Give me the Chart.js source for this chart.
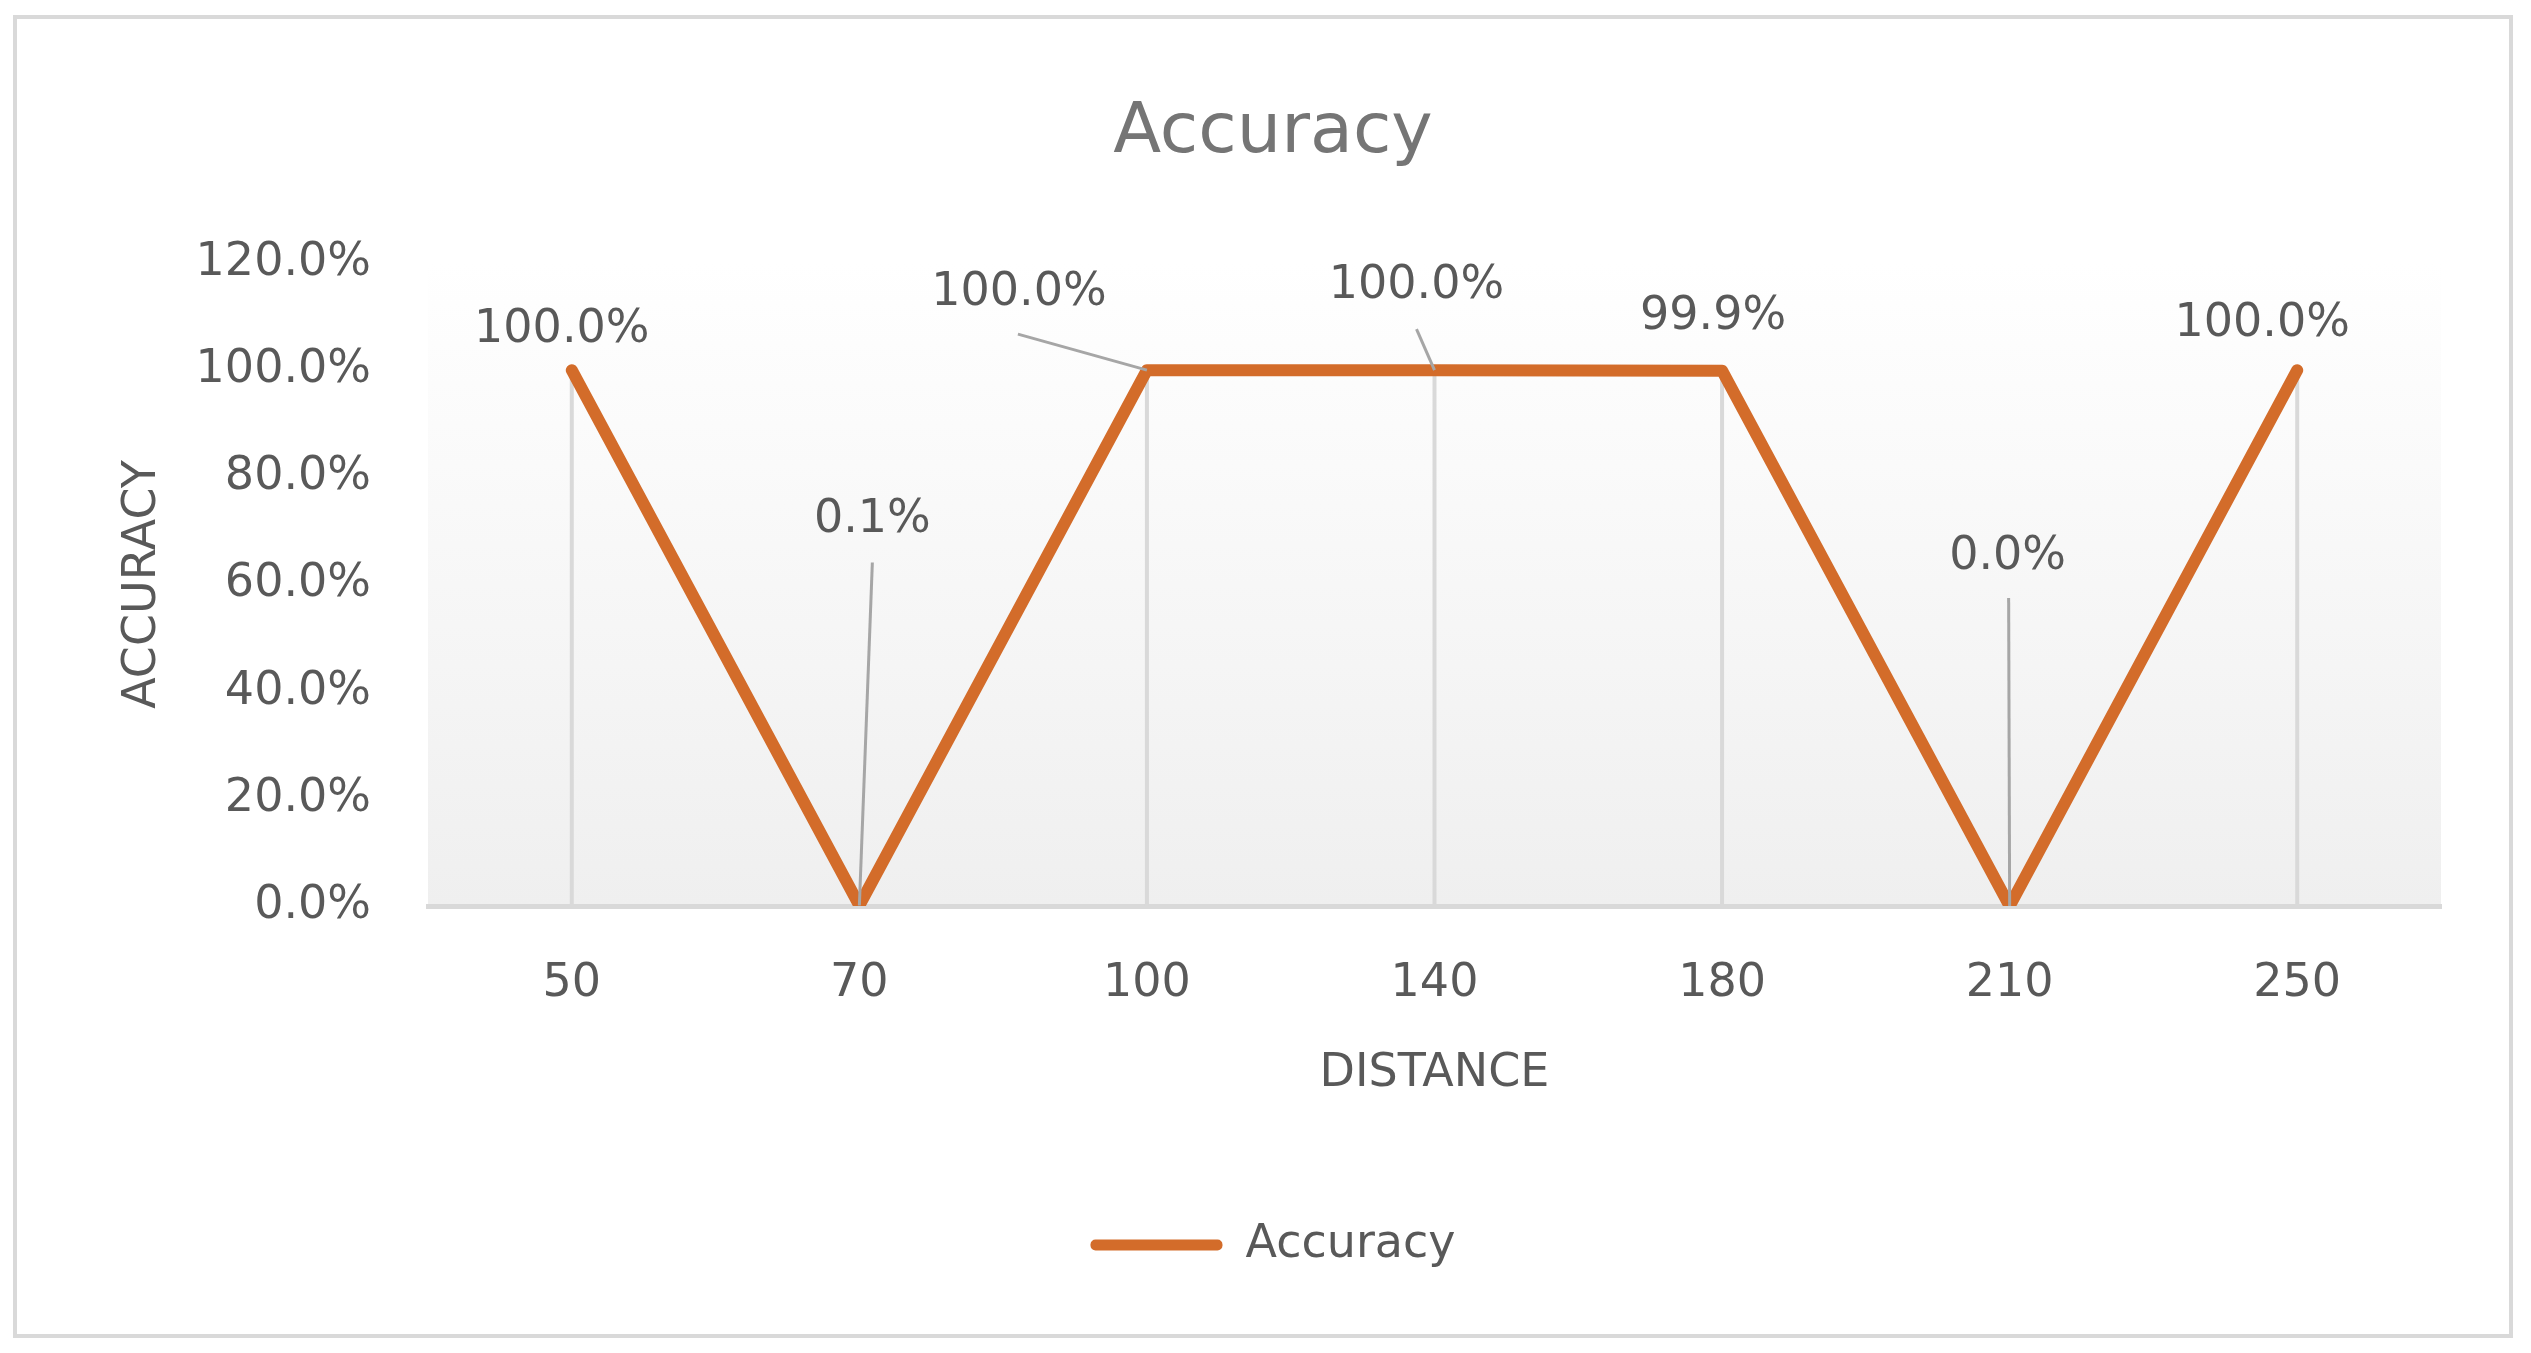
<!DOCTYPE html>
<html><head><meta charset="utf-8">
<script src="https://cdn.jsdelivr.net/npm/chart.js@4.4.1/dist/chart.umd.min.js"></script>
<style>html,body{margin:0;padding:0;background:#fff;overflow:hidden}#wrap{position:absolute;left:0;top:0;width:2531px;height:1353px}</style>
</head><body><div id="wrap"><canvas id="c" width="2531" height="1353"></canvas></div>
<script>
const categories = ['50', '70', '100', '140', '180', '210', '250'];
const accuracyValues = [100.0, 0.1, 100.0, 100.0, 99.9, 0.0, 100.0];
const yTickValues = [0, 20, 40, 60, 80, 100, 120];
const seriesName = 'Accuracy';
const chartTitle = 'Accuracy';
const xAxisTitle = 'DISTANCE';
const yAxisTitle = 'ACCURACY';

const FONT = 'DejaVu Sans';
const LINE_COLOR = '#D36C2A';
const TEXT_COLOR = '#595959';

// label placement relative to each point (pixels): [dx, dy, leaderStart]
const labelPlacement = [
  {dx: -10, dy: -40, leader: null},
  {dx: 13, dy: -385, leader: [13, -343]},
  {dx: -128, dy: -77, leader: [-129, -36]},
  {dx: -18, dy: -84, leader: [-18, -41]},
  {dx: -9, dy: -54, leader: null},
  {dx: -2, dy: -349, leader: [-1, -308]},
  {dx: -35, dy: -46, leader: null}
];

const framePlugin = {
  id: 'frame',
  beforeDraw(chart) {
    const {ctx, chartArea: a} = chart;
    ctx.save();
    ctx.fillStyle = '#ffffff';
    ctx.fillRect(0, 0, chart.width, chart.height);
    ctx.strokeStyle = '#d9d9d9';
    ctx.lineWidth = 4;
    ctx.strokeRect(15, 17, 2496, 1319);
    const g = ctx.createLinearGradient(0, a.top, 0, a.bottom);
    g.addColorStop(0, '#ffffff');
    g.addColorStop(1, '#efefef');
    ctx.fillStyle = g;
    ctx.fillRect(a.left, a.top, a.right - a.left, a.bottom - a.top);
    ctx.restore();
  },
  beforeDatasetsDraw(chart) {
    const {ctx, scales: {x, y}} = chart;
    ctx.save();
    ctx.strokeStyle = '#d9d9d9';
    ctx.lineWidth = 4;
    accuracyValues.forEach((v, i) => {
      const px = x.getPixelForValue(i);
      ctx.beginPath();
      ctx.moveTo(px, y.getPixelForValue(v));
      ctx.lineTo(px, y.getPixelForValue(0));
      ctx.stroke();
    });
    ctx.restore();
  },
  afterDatasetsDraw(chart) {
    const {ctx, scales: {x, y}} = chart;
    ctx.save();
    ctx.font = '46px "' + FONT + '"';
    ctx.fillStyle = TEXT_COLOR;
    ctx.textAlign = 'center';
    ctx.textBaseline = 'middle';
    accuracyValues.forEach((v, i) => {
      const px = x.getPixelForValue(i);
      const py = y.getPixelForValue(v);
      const p = labelPlacement[i];
      if (p.leader) {
        ctx.strokeStyle = '#a6a6a6';
        ctx.lineWidth = 3;
        ctx.beginPath();
        ctx.moveTo(px + p.leader[0], py + p.leader[1]);
        ctx.lineTo(px, py);
        ctx.stroke();
      }
      ctx.fillText(v.toFixed(1) + '%', px + p.dx, py + p.dy);
    });
    ctx.restore();
  }
};

new Chart(document.getElementById('c'), {
  type: 'line',
  data: {
    labels: categories,
    datasets: [{
      label: seriesName,
      data: accuracyValues,
      borderColor: LINE_COLOR,
      backgroundColor: LINE_COLOR,
      borderWidth: 12,
      borderCapStyle: 'round',
      borderJoinStyle: 'round',
      pointRadius: 0,
      pointHoverRadius: 0,
      tension: 0,
      fill: false
    }]
  },
  options: {
    responsive: false,
    animation: false,
    devicePixelRatio: 1,
    layout: {padding: {top: 0, left: 105, right: 90, bottom: 75}},
    plugins: {
      title: {
        display: true,
        text: chartTitle,
        color: '#757575',
        font: {family: FONT, size: 70, weight: 'normal'},
        padding: {top: 92, bottom: 87}
      },
      legend: {
        display: true,
        position: 'bottom',
        labels: {
          color: TEXT_COLOR,
          font: {family: FONT, size: 46},
          boxWidth: 132,
          boxHeight: 11,
          padding: 10,
          useBorderRadius: true,
          borderRadius: 5,
          generateLabels(chart) {
            return chart.data.datasets.map((d, i) => ({
              text: d.label, fillStyle: d.borderColor, strokeStyle: d.borderColor,
              lineWidth: 0, hidden: false, datasetIndex: i, fontColor: TEXT_COLOR,
              borderRadius: 5
            }));
          }
        }
      },
      tooltip: {enabled: false}
    },
    scales: {
      x: {
        offset: true,
        grid: {display: false, drawTicks: false, tickLength: 0},
        border: {display: true, color: '#d9d9d9', width: 5},
        ticks: {color: TEXT_COLOR, font: {family: FONT, size: 46}, padding: 50, maxRotation: 0, autoSkip: false},
        title: {display: true, text: xAxisTitle, color: TEXT_COLOR, font: {family: FONT, size: 46}, padding: {top: 31, bottom: 110}},
        afterFit(scale) { scale.height = 306; }
      },
      y: {
        min: 0, max: 120,
        grid: {display: false, drawTicks: false, tickLength: 0},
        border: {display: false},
        afterBuildTicks(scale) { scale.ticks = yTickValues.map(v => ({value: v})); },
        ticks: {color: TEXT_COLOR, font: {family: FONT, size: 46}, padding: 57, callback: v => Number(v).toFixed(1) + '%'},
        title: {display: true, text: yAxisTitle, color: TEXT_COLOR, font: {family: FONT, size: 46}, padding: {top: 10, bottom: 20}},
        afterFit(scale) { scale.width = 323; }
      }
    }
  },
  plugins: [framePlugin]
});
</script>
</body></html>
